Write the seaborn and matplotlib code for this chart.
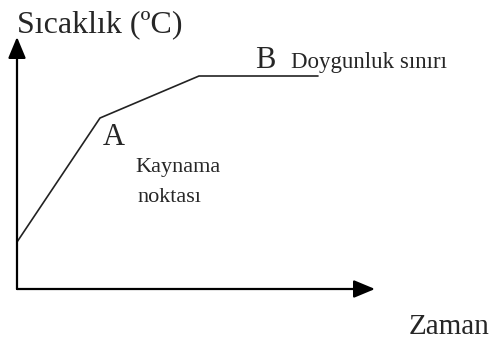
import matplotlib
matplotlib.use("Agg")
import matplotlib.pyplot as plt
import seaborn as sns
import pandas as pd

# Şematik eğri: zaman (x) ve sıcaklık (y), eksen başlangıcına göre
zaman = [0, 83, 182, 301]
sicaklik = [47, 171, 213, 213]

eksen_etiketi_y = "Sıcaklık (ºC)"
eksen_etiketi_x = "Zaman"
nokta_a = "A"
nokta_b = "B"
etiket_a = ["Kaynama", "noktası"]
etiket_b = "Doygunluk sınırı"

sns.set_style("white")
plt.rcParams["font.family"] = ["Liberation Serif", "DejaVu Serif"]

df = pd.DataFrame({"Zaman": zaman, "Sicaklik": sicaklik})

fig = plt.figure(figsize=(4.96, 3.39), dpi=100)
ax = fig.add_axes([0, 0, 1, 1])
ax.set_xlim(-17, 479)
ax.set_ylim(-50, 289)
ax.axis("off")

sns.lineplot(data=df, x="Zaman", y="Sicaklik", ax=ax, color="#222222",
             linewidth=1.2, sort=False)

# Eksen okları
ok = dict(arrowstyle="-|>,head_length=0.72,head_width=0.3", color="black",
          lw=1.6, mutation_scale=18, shrinkA=0, shrinkB=0)
ax.annotate("", xy=(0, 252), xytext=(0, 0), arrowprops=ok)
ax.annotate("", xy=(358, 0), xytext=(0, 0), arrowprops=ok)

ax.text(0, 257, eksen_etiketi_y, fontsize=23, va="baseline", ha="left")
ax.text(392, -45, eksen_etiketi_x, fontsize=21, va="baseline", ha="left")
ax.text(86, 144, nokta_a, fontsize=22, va="baseline", ha="left")
ax.text(238, 221, nokta_b, fontsize=22, va="baseline", ha="left")
ax.text(274, 221, etiket_b, fontsize=16.5, va="baseline", ha="left")
ax.text(118, 117, etiket_a[0], fontsize=16, va="baseline", ha="left")
ax.text(120, 87, etiket_a[1], fontsize=16, va="baseline", ha="left")

fig.savefig("out.png", dpi=100)
